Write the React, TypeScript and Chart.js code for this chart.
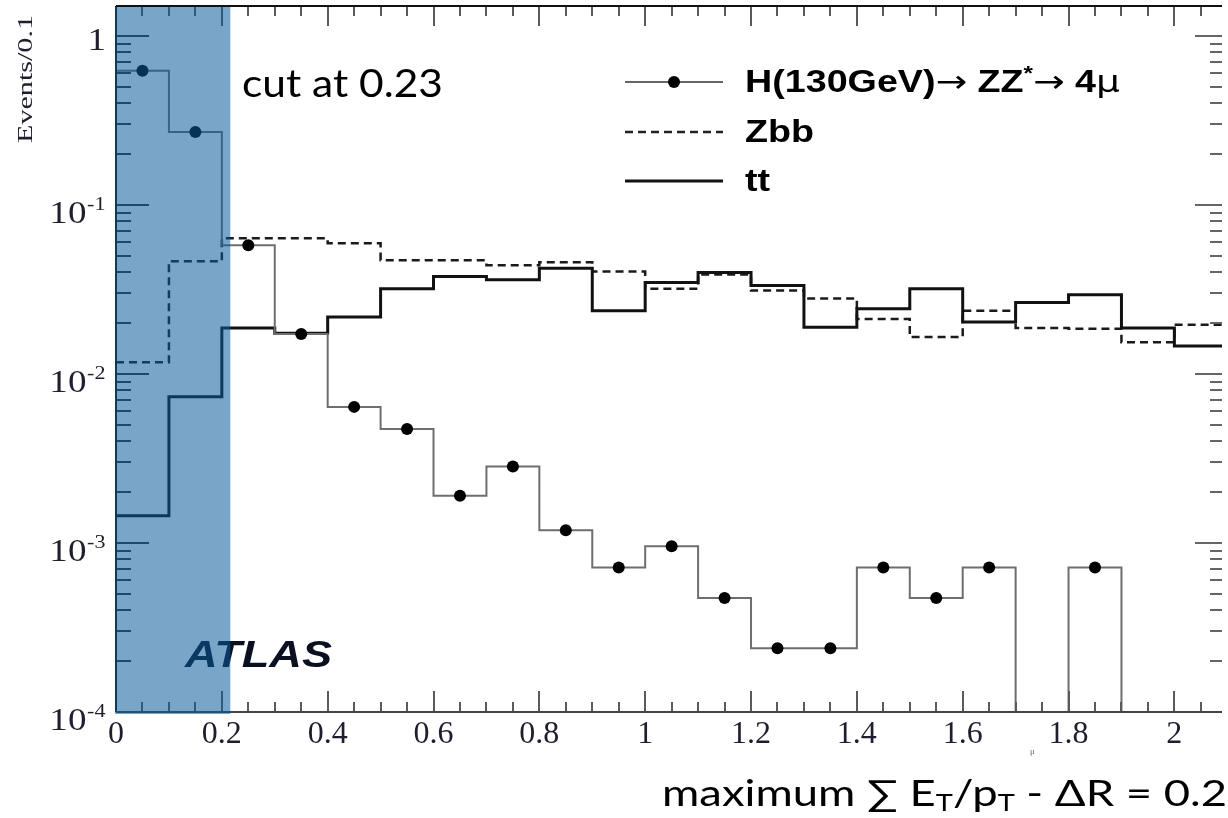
import React, { useEffect, useRef } from 'react';
import { Chart, registerables } from 'chart.js';

Chart.register(...registerables);

// ---- data ----
const binEdges = [0, 0.1, 0.2, 0.3, 0.4, 0.5, 0.6, 0.7, 0.8, 0.9, 1.0, 1.1, 1.2, 1.3, 1.4, 1.5, 1.6, 1.7, 1.8, 1.9, 2.0, 2.1];
const higgsValues = [0.62, 0.27, 0.0577, 0.0172, 0.00638, 0.00472, 0.0019, 0.00283, 0.00119, 0.000716, 0.000955, 0.000473, 0.000238, 0.000238, 0.000716, 0.000473, 0.000716, 0, 0.000716, 0, 0];
const zbbValues = [0.0117, 0.0464, 0.0635, 0.0635, 0.0593, 0.047, 0.047, 0.0439, 0.0457, 0.0403, 0.0319, 0.0387, 0.0311, 0.0279, 0.0211, 0.0165, 0.0236, 0.0187, 0.0185, 0.0154, 0.0195];
const ttValues = [0.00145, 0.00733, 0.0187, 0.0174, 0.0217, 0.0319, 0.0377, 0.0361, 0.0421, 0.0236, 0.0347, 0.0398, 0.0333, 0.0189, 0.0243, 0.0319, 0.0203, 0.0264, 0.0294, 0.0187, 0.0146];

const xTickValues = [0, 0.2, 0.4, 0.6, 0.8, 1, 1.2, 1.4, 1.6, 1.8, 2];
const yDecadeValues = [1, 0.1, 0.01, 0.001, 0.0001];
const yDecadeLabels: [string, string][] = [['1', ''], ['10', '-1'], ['10', '-2'], ['10', '-3'], ['10', '-4']];
const legendLabels = ['H(130GeV)→ ZZ*→ 4μ', 'Zbb', 'tt'];
const yTitle = 'Events/0.1';
const cutText = 'cut at 0.23';
const atlasText = 'ATLAS';

const X_MIN = 0;
const X_MAX = 2.09;
const Y_MIN = 1e-4;
const Y_MAX = 1.5;
const CUT_SHADE_END = 0.216;

// histogram outline: one point per bin edge, value held until next edge
const stepPoints = (vals: number[]) =>
  binEdges.map((e, i) => ({ x: e, y: Math.max(vals[Math.min(i, vals.length - 1)], Y_MIN) }));
const higgsMarkers = higgsValues
  .map((v, i) => ({ x: (binEdges[i] + binEdges[i + 1]) / 2, y: v }))
  .filter((p) => p.y > 0);

type Seg = { t: string; font: string; dy?: number };

function segWidth(ctx: CanvasRenderingContext2D, segs: Seg[]) {
  let w = 0;
  for (const s of segs) {
    ctx.font = s.font;
    w += ctx.measureText(s.t).width;
  }
  return w;
}

function drawSegs(ctx: CanvasRenderingContext2D, segs: Seg[], x: number, y: number, sx: number, color: string) {
  ctx.save();
  ctx.translate(x, y);
  ctx.scale(sx, 1);
  ctx.fillStyle = color;
  ctx.textAlign = 'left';
  ctx.textBaseline = 'alphabetic';
  let cx = 0;
  for (const s of segs) {
    ctx.font = s.font;
    ctx.fillText(s.t, cx, s.dy || 0);
    cx += ctx.measureText(s.t).width;
  }
  ctx.restore();
}

function fitSegs(ctx: CanvasRenderingContext2D, segs: Seg[], x0: number, x1: number, y: number, color: string) {
  const w = segWidth(ctx, segs);
  const sx = (x1 - x0) / w;
  drawSegs(ctx, segs, x0, y, sx, color);
  return sx;
}

const decorPlugin = {
  id: 'decor',
  afterDraw(chart: any) {
    const { ctx, chartArea: ca, scales } = chart;
    const xs = scales.x;
    const ys = scales.y;
    const line = (x1: number, y1: number, x2: number, y2: number) => {
      ctx.beginPath();
      ctx.moveTo(x1, y1);
      ctx.lineTo(x2, y2);
      ctx.stroke();
    };
    ctx.save();
    ctx.setLineDash([]);

    // x tick marks (bottom and top), minor every 0.05
    ctx.lineWidth = 2;
    ctx.strokeStyle = '#5a5a5a';
    const nMinor = Math.floor((X_MAX - X_MIN) / 0.05 + 1e-6);
    for (let k = 0; k <= nMinor; k++) {
      const px = Math.round(xs.getPixelForValue(X_MIN + k * 0.05));
      const major = k % 4 === 0;
      line(px, ca.bottom, px, ca.bottom - (major ? 21 : 10));
      line(px, ca.top, px, ca.top + (major ? 20 : 10));
    }
    // y tick marks (left and right)
    for (let d = -4; d <= 0; d++) {
      for (let m = 1; m <= 9; m++) {
        const v = m * Math.pow(10, d);
        if (v < Y_MIN * 0.999 || v > Y_MAX) continue;
        const py = Math.round(ys.getPixelForValue(v));
        const major = m === 1;
        ctx.strokeStyle = '#333';
        line(ca.left, py, ca.left + (major ? 33 : 15), py);
        ctx.strokeStyle = '#666';
        line(ca.right, py, ca.right - (major ? 27 : 12), py);
      }
    }
    // frame
    ctx.strokeStyle = '#111';
    ctx.lineWidth = 2;
    line(ca.left, ca.top, ca.right, ca.top);
    line(ca.left, ca.top, ca.left, ca.bottom);
    ctx.strokeStyle = '#444';
    line(ca.left, ca.bottom, ca.right, ca.bottom);

    // y tick labels 10^n
    const sxl = 1.16;
    yDecadeValues.forEach((v, i) => {
      const py = ys.getPixelForValue(v);
      const [base, exp] = yDecadeLabels[i];
      const bf = '32px "Liberation Serif"';
      const ef = '19px "Liberation Serif"';
      ctx.font = bf;
      const wb = ctx.measureText(base).width;
      ctx.font = ef;
      const we = exp ? ctx.measureText(exp).width + 1 : 0;
      const total = (wb + we) * sxl;
      const segs: Seg[] = [{ t: base, font: bf }];
      if (exp) segs.push({ t: ' ', font: '2px serif' }, { t: exp, font: ef, dy: -13 });
      drawSegs(ctx, segs, 106 - total, py + (exp ? 18 : 14), sxl, '#1e1e2e');
    });

    // y title (rotated)
    ctx.save();
    ctx.translate(32, 143);
    ctx.rotate(-Math.PI / 2);
    ctx.font = '20px "Liberation Serif"';
    const wy = ctx.measureText(yTitle).width;
    ctx.scale(128 / wy, 1);
    ctx.fillStyle = '#1e1e2e';
    ctx.textAlign = 'left';
    ctx.textBaseline = 'alphabetic';
    ctx.fillText(yTitle, 0, 0);
    ctx.restore();

    // legend
    const lx0 = 625;
    const lx1 = 723;
    const rows = [82, 132, 181];
    ctx.lineWidth = 2;
    ctx.strokeStyle = '#666';
    line(lx0, rows[0], lx1, rows[0]);
    ctx.fillStyle = '#000';
    ctx.beginPath();
    ctx.arc((lx0 + lx1) / 2, rows[0], 6, 0, Math.PI * 2);
    ctx.fill();
    ctx.lineWidth = 2.5;
    ctx.strokeStyle = '#222';
    ctx.setLineDash([8, 5]);
    line(lx0, rows[1], lx1, rows[1]);
    ctx.setLineDash([]);
    ctx.lineWidth = 3;
    ctx.strokeStyle = '#111';
    line(lx0, rows[2], lx1, rows[2]);

    const lf = 'bold 31px "Liberation Sans"';
    const af = '31px "DejaVu Sans"';
    // split "H(130GeV)→ ZZ*→ 4μ" into styled pieces
    const lab = legendLabels[0];
    const a1 = lab.indexOf('→');
    const st = lab.indexOf('*');
    const a2 = lab.indexOf('→', st);
    const row1: Seg[] = [
      { t: lab.slice(0, a1), font: lf },
      { t: '→', font: af },
      { t: lab.slice(a1 + 1, st), font: lf },
      { t: '*', font: 'bold 20px "Liberation Sans"', dy: -12 },
      { t: '→', font: af },
      { t: lab.slice(a2 + 1, -1), font: lf },
      { t: lab.slice(-1), font: '31px "DejaVu Sans"' },
    ];
    const lsx = fitSegs(ctx, row1, 745, 1120, rows[0] + 10, '#000');
    drawSegs(ctx, [{ t: legendLabels[1], font: lf }], 745, rows[1] + 10, lsx, '#000');
    drawSegs(ctx, [{ t: legendLabels[2], font: lf }], 745, rows[2] + 10, lsx, '#000');

    // ATLAS
    fitSegs(ctx, [{ t: atlasText, font: 'italic bold 37px "Liberation Sans"' }], 185, 332, 667, '#0b1020');

    // blue "cut" band overlay
    const xr = xs.getPixelForValue(CUT_SHADE_END);
    ctx.fillStyle = 'rgba(10,91,155,0.55)';
    ctx.fillRect(ca.left - 1, ca.top + 1, xr - ca.left + 1, ca.bottom - ca.top + 1);

    // cut text
    fitSegs(ctx, [{ t: cutText, font: '38px Lato' }], 242, 443, 97, '#000');

    // x title
    const tf = '36px Lato';
    const sf = '23px Lato';
    fitSegs(
      ctx,
      [
        { t: 'maximum ∑ E', font: tf },
        { t: 'T', font: sf, dy: 5 },
        { t: '/p', font: tf },
        { t: 'T', font: sf, dy: 5 },
        { t: ' - ΔR = 0.2', font: tf },
      ],
      662,
      1227,
      806,
      '#000'
    );

    // tiny stray mu below axis
    drawSegs(ctx, [{ t: 'μ', font: '9px "Liberation Serif"' }], 1030, 754, 1, '#6c6290');

    ctx.restore();
  },
};

export default function App() {
  const ref = useRef<HTMLCanvasElement>(null);
  useEffect(() => {
    const canvas = ref.current;
    if (!canvas) return;
    const chart = new Chart(canvas, {
      type: 'line',
      data: {
        datasets: [
          {
            label: 'H markers',
            data: higgsMarkers,
            showLine: false,
            pointRadius: 6,
            pointHoverRadius: 6,
            pointBackgroundColor: '#000',
            pointBorderColor: '#000',
            pointBorderWidth: 0,
          },
          {
            label: legendLabels[0],
            data: stepPoints(higgsValues),
            stepped: true,
            borderColor: '#6e6e6e',
            borderWidth: 2,
            pointRadius: 0,
            fill: false,
          },
          {
            label: legendLabels[2],
            data: stepPoints(ttValues),
            stepped: true,
            borderColor: '#111',
            borderWidth: 3,
            pointRadius: 0,
            fill: false,
          },
          {
            label: legendLabels[1],
            data: stepPoints(zbbValues),
            stepped: true,
            borderColor: '#1a1a1a',
            borderWidth: 2.5,
            borderDash: [8, 5],
            pointRadius: 0,
            fill: false,
          },
        ],
      } as any,
      options: {
        animation: false,
        responsive: false,
        maintainAspectRatio: false,
        events: [],
        layout: { padding: 0 },
        plugins: { legend: { display: false }, tooltip: { enabled: false } },
        scales: {
          x: {
            type: 'linear',
            min: X_MIN,
            max: X_MAX,
            afterFit: (s: any) => {
              s.height = 106;
            },
            afterBuildTicks: (s: any) => {
              s.ticks = xTickValues.map((v) => ({ value: v }));
            },
            ticks: {
              autoSkip: false,
              maxRotation: 0,
              padding: 3,
              color: '#1e1e2e',
              font: { family: '"Liberation Serif"', size: 32 },
              callback: (v: any) => String(v),
            },
            grid: { display: false, drawTicks: false },
            border: { display: false },
          },
          y: {
            type: 'logarithmic',
            min: Y_MIN,
            max: Y_MAX,
            afterFit: (s: any) => {
              s.width = 116;
            },
            ticks: { display: false },
            grid: { display: false, drawTicks: false },
            border: { display: false },
          },
        },
      } as any,
      plugins: [decorPlugin],
    });
    return () => chart.destroy();
  }, []);
  return (
    <div style={{ position: 'absolute', left: 0, top: 0, width: 1228, height: 818, background: '#fff' }}>
      <canvas ref={ref} width={1228} height={818} style={{ display: 'block', width: 1228, height: 818 }} />
    </div>
  );
}
